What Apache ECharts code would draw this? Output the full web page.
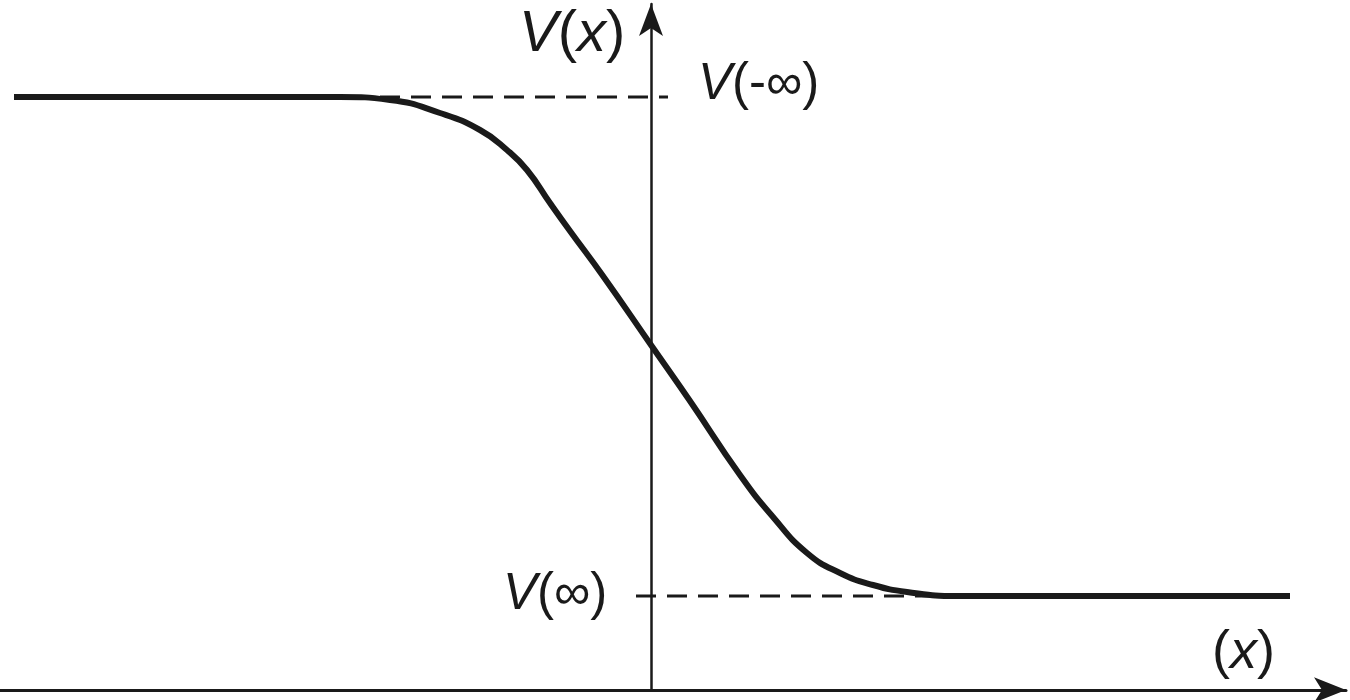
<!DOCTYPE html>
<html lang="en">
<head>
    <meta charset="UTF-8">
    <title>V(x) step curve</title>
    <script src="https://cdn.jsdelivr.net/npm/echarts@6/dist/echarts.min.js"></script>
    <style>
        html, body { margin: 0; padding: 0; background: #fff; }
        #render-target { width: 1350px; height: 700px; }
    </style>
</head>
<body>
    <div id="render-target"></div>
    <script>
        // curve (x, V)
        const curveX = [-6.37, -3.11, -2.61, -2.11, -1.71, -1.44, -1.24, -1.01, -0.81, -0.48, 0, 0.39, 0.89, 1.22, 1.56, 1.89, 2.22, 2.56, 3.06, 6.39]
        const curveV = [5.93, 5.93, 5.90, 5.77, 5.60, 5.40, 5.20, 4.87, 4.59, 4.14, 3.45, 2.89, 2.15, 1.73, 1.37, 1.17, 1.05, 0.98, 0.94, 0.94]

        const vMinusInf = 5.93
        const vPlusInf = 0.94
        const upperDashX = [-2.71, 0.17]
        const lowerDashX = [-0.15, 3.0]

        const ink = "#1a1a1a"
        const font = "Liberation Sans, Arial, sans-serif"

        const chart = echarts.init(document.querySelector("#render-target"))

        const dashStyle = { color: ink, width: 3, type: [20, 11] }

        function label(parts, size) {
            return {
                text: parts,
                rich: {
                    i: { fontFamily: font, fontStyle: "italic", fontSize: size, fill: ink },
                    n: { fontFamily: font, fontSize: size, fill: ink }
                }
            }
        }

        chart.setOption({
            animation: false,
            grid: { left: 0, right: 4, top: 4, bottom: 10 },
            xAxis: {
                type: "value",
                min: -6.51,
                max: 6.95,
                axisLine: {
                    show: true,
                    lineStyle: { color: ink, width: 3 },
                    symbol: ["none", "arrow"],
                    symbolSize: [19, 32]
                },
                axisTick: { show: false },
                axisLabel: { show: false },
                splitLine: { show: false }
            },
            yAxis: {
                type: "value",
                min: 0,
                max: 6.86,
                axisLine: {
                    show: true,
                    onZero: true,
                    lineStyle: { color: ink, width: 2.5 },
                    symbol: ["none", "arrow"],
                    symbolSize: [18, 32]
                },
                axisTick: { show: false },
                axisLabel: { show: false },
                splitLine: { show: false }
            },
            series: [
                {
                    type: "line",
                    data: upperDashX.map(x => [x, vMinusInf]),
                    symbol: "none",
                    lineStyle: dashStyle,
                    z: 1
                },
                {
                    type: "line",
                    data: lowerDashX.map(x => [x, vPlusInf]),
                    symbol: "none",
                    lineStyle: dashStyle,
                    z: 1
                },
                {
                    type: "line",
                    data: curveX.map((x, i) => [x, curveV[i]]),
                    symbol: "none",
                    smooth: 0.5,
                    lineStyle: { color: ink, width: 6 },
                    z: 3
                }
            ],
            graphic: [
                { type: "text", left: 519, top: 6, style: label("{i|V}{n|(}{i|x}{n|)}", 58) },
                { type: "text", left: 698, top: 59, style: label("{i|V}{n|(-∞)}", 51) },
                { type: "text", left: 503, top: 569, style: label("{i|V}{n|(∞)}", 51) },
                { type: "text", left: 1212, top: 626, style: label("{n|(}{i|x}{n|)}", 54) }
            ]
        })
    </script>
</body>
</html>
